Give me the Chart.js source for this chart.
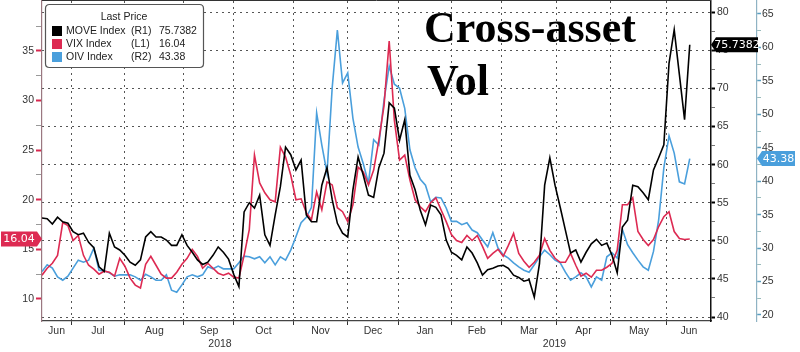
<!DOCTYPE html>
<html>
<head>
<meta charset="utf-8">
<script src="https://cdn.jsdelivr.net/npm/chart.js@4.4.1/dist/chart.umd.min.js"></script>
<style>
  html, body { margin: 0; padding: 0; background: #fff; }
</style>
</head>
<body>
<canvas id="chart" width="800" height="352"></canvas>
<script>
// trading days between samples (x value of point i = i * dayStep)
var dayStep = 2;

// MOVE Index (R1)
var moveIdx = [
  53.0, 52.9, 52.2, 53.1, 52.5, 52.3, 51.2, 50.8, 51.0, 49.8,
  49.1, 46.6, 46.0, 51.0, 49.2, 48.8, 48.1, 47.2, 46.8, 47.5,
  50.5, 51.2, 50.5, 50.5, 50.1, 49.4, 49.4, 50.8, 49.4, 48.5,
  47.5, 46.9, 47.2, 48.1, 49.2, 48.5, 47.6, 45.6, 44.0, 53.8,
  55.0, 54.3, 56.0, 50.8, 49.4, 53.4, 57.1, 62.3, 61.3, 59.3,
  60.6, 53.4, 52.5, 52.5, 57.3, 59.6, 55.4, 52.3, 51.0, 50.5,
  56.7, 61.0, 58.6, 56.0, 55.7, 59.6, 61.5, 68.1, 67.4, 63.2,
  65.9, 58.6, 56.7, 54.0, 52.1, 54.7, 54.4, 53.4, 50.1, 48.5,
  48.1, 47.5, 49.2, 48.4, 47.1, 45.5, 46.2, 46.4, 46.7, 46.8,
  46.4, 45.5, 45.2, 44.7, 44.9, 42.6, 47.0, 57.3, 60.9, 57.3,
  54.4, 51.4, 48.4, 48.8, 47.2, 48.5, 49.6, 50.2, 49.4, 49.7,
  48.1, 45.8, 51.8, 52.7, 57.3, 57.1, 56.3, 55.4, 59.3, 60.9,
  62.6, 73.3, 77.7, 71.8, 65.9, 75.7382
];

// VIX Index (L1)
var vixIdx = [
  12.4, 13.1, 13.6, 14.4, 17.7, 17.4, 15.9, 16.4, 14.4, 13.4,
  13.0, 12.5, 12.8, 12.7, 12.3, 14.1, 13.3, 12.1, 11.4, 11.1,
  13.5, 14.3, 13.4, 12.5, 12.1, 12.1, 12.7, 13.5, 14.1, 15.0,
  14.3, 13.1, 13.6, 13.1, 12.6, 12.4, 12.6, 12.2, 12.1, 14.4,
  17.0, 24.5, 21.7, 20.7, 20.0, 19.8, 25.3, 24.3, 22.5, 20.0,
  20.1, 18.7, 18.0, 20.8, 19.0, 21.8, 21.5, 19.2, 18.8, 17.8,
  19.5, 23.3, 22.8, 21.5, 23.0, 26.0, 29.5, 36.0, 28.0, 24.0,
  24.5, 22.0, 20.0, 19.3, 18.8, 19.7, 20.2, 19.0, 17.8, 16.5,
  15.9, 15.7, 16.4, 15.9, 16.4, 15.3, 14.1, 14.6, 15.0, 14.3,
  15.4, 16.6, 14.6, 13.8, 13.2, 13.7, 14.4, 16.1, 14.9, 14.1,
  13.7, 13.7, 14.6, 13.4, 12.3, 12.6, 12.2, 12.9, 12.9, 13.2,
  13.6, 14.9, 19.5, 19.5, 20.2, 16.8, 16.0, 15.4, 16.0, 17.3,
  18.3, 18.8, 16.8, 16.1, 16.0, 16.04
];

// OIV Index (R2)
var oivIdx = [
  26.5, 27.5, 27.0, 25.7, 25.2, 25.8, 27.0, 28.2, 27.9, 28.2,
  30.0, 26.7, 26.6, 26.3, 25.8, 26.0, 26.0, 26.0, 25.7, 25.2,
  26.1, 25.7, 25.2, 25.2, 26.0, 23.7, 23.4, 24.5, 25.7, 26.0,
  25.7, 26.0, 27.2, 26.9, 27.3, 26.9, 26.9, 26.9, 27.8, 28.8,
  28.7, 28.4, 28.7, 27.8, 28.7, 27.5, 28.7, 28.2, 29.7, 31.7,
  33.8, 34.6, 36.1, 50.2, 45.4, 41.2, 54.0, 62.6, 54.7, 56.2,
  49.4, 45.1, 42.6, 39.7, 46.2, 45.4, 52.1, 57.2, 54.5, 53.9,
  50.9, 44.7, 42.0, 40.3, 39.4, 36.9, 37.6, 37.5, 36.0, 34.0,
  34.0, 33.5, 33.8, 32.7, 32.3, 31.2, 30.2, 32.3, 30.0, 29.0,
  28.5, 27.8, 27.2, 26.7, 26.4, 27.5, 28.7, 29.7, 29.0, 28.2,
  27.8, 26.4, 25.2, 25.7, 26.3, 25.7, 24.2, 25.7, 25.2, 28.7,
  29.3, 28.5, 32.8, 30.5, 29.3, 28.2, 27.2, 26.7, 29.5, 34.2,
  42.0, 46.8, 44.2, 39.9, 39.6, 43.38
];

// x axis (trading-day index): month starts Jul 2018 .. Jun 2019
var monthStarts = [11.2, 32.0, 54.8, 74.1, 96.9, 118.1, 137.4, 158.2, 177.5, 198.4, 219.6, 241.2];
var monthNames = ["Jun", "Jul", "Aug", "Sep", "Oct", "Nov", "Dec", "Jan", "Feb", "Mar", "Apr", "May", "Jun"];
var yearNames = ["2018", "2019"];
var yearStart = 137.4;
var xMax = 258.2;

// axis ticks (majors every 5 are labelled)
var leftTicks = [10, 12.5, 15, 17.5, 20, 22.5, 25, 27.5, 30, 32.5, 35, 37.5];
var r1Ticks = [40, 42.5, 45, 47.5, 50, 52.5, 55, 57.5, 60, 62.5, 65, 67.5, 70, 72.5, 75, 77.5, 80];
var r2Ticks = [20, 22.5, 25, 27.5, 30, 32.5, 35, 37.5, 40, 42.5, 45, 47.5, 50, 52.5, 55, 57.5, 60, 62.5, 65];

var seriesNames = ["MOVE Index", "VIX Index", "OIV Index"];
var seriesTags = ["(R1)", "(L1)", "(R2)"];
var lastLabels = ["75.7382", "16.04", "43.38"];

var colMove = "#000000";
var colVix = "#dd2a52";
var colOiv = "#4a9fdc";

function toPoints(arr) {
  var out = [];
  for (var i = 0; i < arr.length; i++) out.push({ x: i * dayStep, y: arr[i] });
  return out;
}

function isMajor(v) {
  return Math.abs(v / 5 - Math.round(v / 5)) < 1e-6;
}

// x ticks: boundaries, month centres, year centres
var edges = [0].concat(monthStarts).concat([xMax]);
var xTickKind = {};
var xTickLabel = {};
var xTickVals = [];
monthStarts.forEach(function (v) { xTickVals.push(v); xTickKind[v] = "b"; xTickLabel[v] = ""; });
for (var k = 0; k < monthNames.length; k++) {
  var c = +((edges[k] + edges[k + 1]) / 2).toFixed(2);
  xTickVals.push(c); xTickKind[c] = "m"; xTickLabel[c] = monthNames[k];
}
var yc1 = +((0 + yearStart) / 2).toFixed(2) + 0.001;
var yc2 = +((yearStart + xMax) / 2).toFixed(2) + 0.001;
xTickVals.push(yc1); xTickKind[yc1] = "y"; xTickLabel[yc1] = ["", yearNames[0]];
xTickVals.push(yc2); xTickKind[yc2] = "y"; xTickLabel[yc2] = ["", yearNames[1]];
xTickVals.sort(function (a, b) { return a - b; });

var tickFont = { family: "'Liberation Sans', sans-serif", size: 10.5, lineHeight: 1.2 };
var dotted = [2, 4];
var gridCol = "#555555";

function fixWidth(w) {
  return function (s) { s.width = w; s.paddingTop = 0; s.paddingBottom = 0; };
}

function badge(ctx, tipX, y, text, bg, fg, pointLeft, w) {
  var h = 15;
  ctx.save();
  ctx.fillStyle = bg;
  ctx.beginPath();
  if (pointLeft) {
    ctx.moveTo(tipX, y);
    ctx.lineTo(tipX + 5, y - h / 2);
    ctx.lineTo(tipX + 5 + w, y - h / 2);
    ctx.lineTo(tipX + 5 + w, y + h / 2);
    ctx.lineTo(tipX + 5, y + h / 2);
  } else {
    ctx.moveTo(tipX, y);
    ctx.lineTo(tipX - 5, y - h / 2);
    ctx.lineTo(tipX - 5 - w, y - h / 2);
    ctx.lineTo(tipX - 5 - w, y + h / 2);
    ctx.lineTo(tipX - 5, y + h / 2);
  }
  ctx.closePath();
  ctx.fill();
  ctx.fillStyle = fg;
  ctx.font = "11px 'DejaVu Sans', sans-serif";
  ctx.textBaseline = "middle";
  ctx.textAlign = "center";
  var cx = pointLeft ? tipX + 5 + w / 2 : tipX - 5 - w / 2;
  ctx.fillText(text, cx, y + 0.5);
  ctx.restore();
}

var decor = {
  id: "decor",
  afterDraw: function (chart) {
    var ctx = chart.ctx;
    var a = chart.chartArea;
    var sc = chart.scales;

    // frame top
    ctx.save();
    ctx.strokeStyle = "#333";
    ctx.lineWidth = 1;
    ctx.beginPath();
    ctx.moveTo(a.left, a.top - 0.5);
    ctx.lineTo(a.right, a.top - 0.5);
    ctx.stroke();

    // title
    ctx.fillStyle = "#000";
    ctx.font = "bold 44px 'Liberation Serif', serif";
    ctx.textAlign = "left";
    ctx.textBaseline = "alphabetic";
    ctx.fillText("Cross-asset", 424, 42);
    ctx.fillText("Vol", 427, 95);

    // legend box
    var bx = 45.5, by = 4.5, bw = 158, bh = 63, r = 4;
    ctx.beginPath();
    ctx.moveTo(bx + r, by);
    ctx.lineTo(bx + bw - r, by);
    ctx.quadraticCurveTo(bx + bw, by, bx + bw, by + r);
    ctx.lineTo(bx + bw, by + bh - r);
    ctx.quadraticCurveTo(bx + bw, by + bh, bx + bw - r, by + bh);
    ctx.lineTo(bx + r, by + bh);
    ctx.quadraticCurveTo(bx, by + bh, bx, by + bh - r);
    ctx.lineTo(bx, by + r);
    ctx.quadraticCurveTo(bx, by, bx + r, by);
    ctx.closePath();
    ctx.fillStyle = "#fff";
    ctx.fill();
    ctx.strokeStyle = "#555";
    ctx.lineWidth = 1.2;
    ctx.stroke();

    ctx.font = "10.5px 'Liberation Sans', sans-serif";
    ctx.textBaseline = "middle";
    ctx.fillStyle = "#222";
    ctx.textAlign = "center";
    ctx.fillText("Last Price", 124, 17);
    ctx.textAlign = "left";
    var cols = [colMove, colVix, colOiv];
    var rows = [31, 44, 57];
    for (var i = 0; i < 3; i++) {
      ctx.fillStyle = cols[i];
      ctx.fillRect(52, rows[i] - 5, 10, 10);
      ctx.fillStyle = "#222";
      ctx.fillText(seriesNames[i], 66, rows[i]);
      ctx.fillText(seriesTags[i], 131, rows[i]);
      ctx.fillText(lastLabels[i], 159, rows[i]);
    }
    ctx.restore();

    // last value badges
    var yv = sc.yL.getPixelForValue(vixIdx[vixIdx.length - 1]);
    badge(ctx, sc.yL.right, yv, lastLabels[1], "#dd2a52", "#fff", false, 36);
    var ym = sc.yR1.getPixelForValue(moveIdx[moveIdx.length - 1]);
    badge(ctx, sc.yR1.left, ym, lastLabels[0], "#000", "#fff", true, 42);
    var yo = sc.yR2.getPixelForValue(oivIdx[oivIdx.length - 1]);
    badge(ctx, sc.yR2.left, yo, lastLabels[2], "#4a9fdc", "#fff", true, 33);
  }
};

new Chart(document.getElementById("chart"), {
  type: "line",
  data: {
    datasets: [
      { label: seriesNames[0], data: toPoints(moveIdx), yAxisID: "yR1", borderColor: colMove, borderWidth: 1.6 },
      { label: seriesNames[1], data: toPoints(vixIdx), yAxisID: "yL", borderColor: colVix, borderWidth: 1.6 },
      { label: seriesNames[2], data: toPoints(oivIdx), yAxisID: "yR2", borderColor: colOiv, borderWidth: 1.6 }
    ]
  },
  options: {
    responsive: false,
    animation: false,
    parsing: false,
    layout: { padding: { top: 1, left: 0, right: 0, bottom: 0 } },
    elements: { point: { radius: 0 }, line: { tension: 0 } },
    plugins: { legend: { display: false }, tooltip: { enabled: false } },
    scales: {
      x: {
        type: "linear",
        min: 0,
        max: xMax,
        afterBuildTicks: function (s) { s.ticks = xTickVals.map(function (v) { return { value: v }; }); },
        afterFit: function (s) { s.height = 31; s.paddingLeft = 0; s.paddingRight = 0; },
        ticks: {
          autoSkip: false,
          maxRotation: 0,
          padding: 0,
          color: "#333",
          font: tickFont,
          callback: function (v) { return xTickLabel[v] !== undefined ? xTickLabel[v] : ""; }
        },
        grid: {
          tickLength: 4,
          lineWidth: 1,
          color: function (c) { return c.tick && xTickKind[c.tick.value] === "b" ? gridCol : "rgba(0,0,0,0)"; },
          tickColor: function (c) { return c.tick && xTickKind[c.tick.value] === "b" ? "#333" : "rgba(0,0,0,0)"; }
        },
        border: { color: "#444", width: 1.2, dash: dotted }
      },
      yL: {
        type: "linear",
        position: "left",
        min: 7.78,
        max: 40.04,
        afterBuildTicks: function (s) { s.ticks = leftTicks.map(function (v) { return { value: v }; }); },
        afterFit: fixWidth(42),
        ticks: {
          padding: 2,
          color: "#333",
          font: tickFont,
          callback: function (v) { return isMajor(v) ? String(v) : ""; }
        },
        grid: {
          drawOnChartArea: false,
          tickLength: 6,
          tickColor: function (c) { return c.tick && isMajor(c.tick.value) ? "#d8284f" : "#999"; },
          tickWidth: function (c) { return c.tick && isMajor(c.tick.value) ? 2 : 1; }
        },
        border: { color: "#9a7880", width: 1.2 }
      },
      yR1: {
        type: "linear",
        position: "right",
        weight: 0,
        min: 39.48,
        max: 81.47,
        afterBuildTicks: function (s) { s.ticks = r1Ticks.map(function (v) { return { value: v }; }); },
        afterFit: fixWidth(46),
        ticks: {
          padding: 2,
          color: "#333",
          font: tickFont,
          callback: function (v) { return isMajor(v) ? String(v) : ""; }
        },
        grid: {
          tickLength: 4,
          lineWidth: 1,
          color: function (c) { return c.tick && isMajor(c.tick.value) ? gridCol : "rgba(0,0,0,0)"; },
          tickColor: function (c) { return c.tick && isMajor(c.tick.value) ? "#000" : "#777"; },
          tickWidth: function (c) { return c.tick && isMajor(c.tick.value) ? 2 : 1; }
        },
        border: { color: "#111", width: 1.5, dash: dotted }
      },
      yR2: {
        type: "linear",
        position: "right",
        weight: 1,
        min: 19.1,
        max: 66.94,
        afterBuildTicks: function (s) { s.ticks = r2Ticks.map(function (v) { return { value: v }; }); },
        afterFit: fixWidth(43),
        ticks: {
          padding: 1,
          color: "#333",
          font: tickFont,
          callback: function (v) { return isMajor(v) ? String(v) : ""; }
        },
        grid: {
          drawOnChartArea: false,
          tickLength: 4,
          tickColor: function (c) { return c.tick && isMajor(c.tick.value) ? "#5a9ec0" : "#9bb"; },
          tickWidth: function (c) { return c.tick && isMajor(c.tick.value) ? 1.5 : 1; }
        },
        border: { color: "#8fb3c4", width: 1.2 }
      }
    }
  },
  plugins: [decor]
});
</script>
</body>
</html>
